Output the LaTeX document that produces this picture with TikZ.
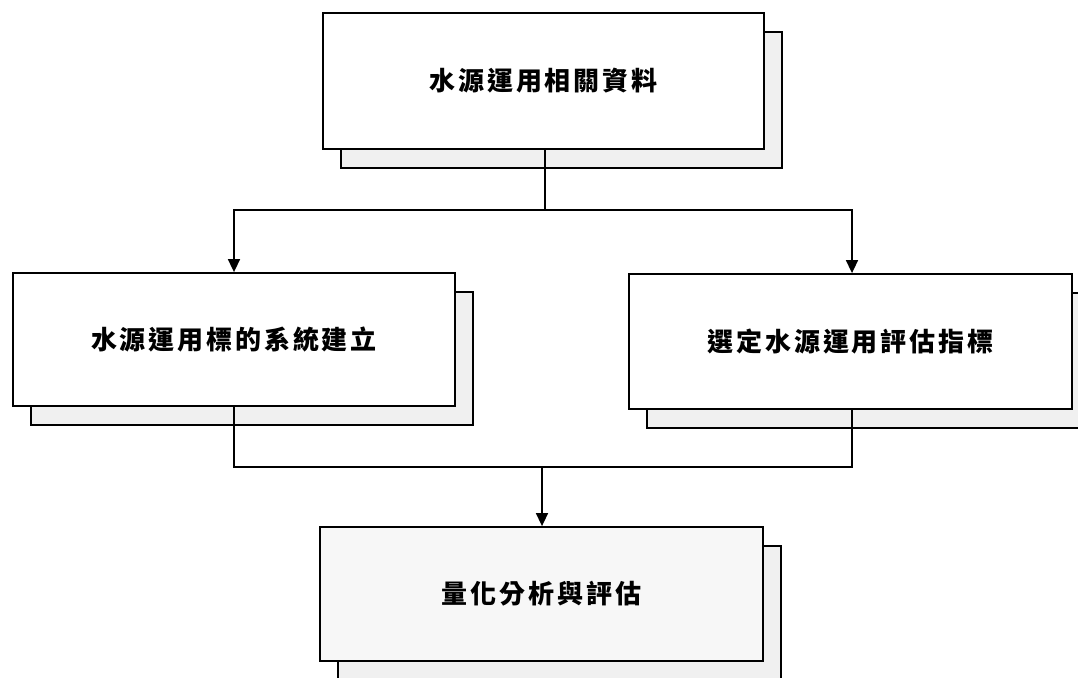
\documentclass[tikz,border=0pt]{standalone}
\usepackage{fontspec}
\newfontfamily\cjk[LetterSpace=11]{Noto Sans CJK TC}
\usetikzlibrary{arrows.meta,shadows}
\begin{document}
\begin{tikzpicture}[x=1pt,y=-1pt,
  box/.style={draw=black, line width=1.8pt, fill=white, inner sep=0pt,
    font=\cjk\bfseries\fontsize{26}{30}\selectfont,
    copy shadow={shadow xshift=18pt, shadow yshift=-19pt, fill=gray!12, draw=black, line width=1.8pt}},
  conn/.style={line width=1.6pt, draw=black},
  arr/.style={conn, -{Triangle[length=13pt,width=12pt]}}]
\useasboundingbox (0,0) rectangle (1078,677);
\clip (0,0) rectangle (1078,677);
\node[box, minimum width=441pt, minimum height=136pt] (src) at (543.5,81) {水源運用相關資料};
\node[box, minimum width=442pt, minimum height=133pt] (sys) at (234,339.5) {水源運用標的系統建立};
\node[box, minimum width=443pt, minimum height=135pt] (ind) at (850.5,341.5) {選定水源運用評估指標};
\node[box, fill=gray!6, minimum width=443pt, minimum height=134pt] (eva) at (541.5,594) {量化分析與評估};
\coordinate (split) at (545,210);
\coordinate (join) at (542,467);
\draw[conn] ([xshift=1.5pt]src.south) -- (split);
\draw[arr] (split) -| (sys.north);
\draw[arr] (split) -| ([xshift=1.5pt]ind.north);
\draw[conn] (sys.south) |- (join);
\draw[conn] ([xshift=1.5pt]ind.south) |- (join);
\draw[arr] (join) -- (eva.north -| join);
\end{tikzpicture}
\end{document}
